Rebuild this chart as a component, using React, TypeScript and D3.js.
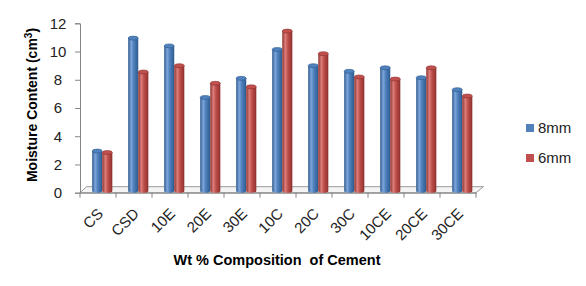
import React, { useEffect, useRef } from 'react';
import * as d3 from 'd3';

const categories = ['CS', 'CSD', '10E', '20E', '30E', '10C', '20C', '30C', '10CE', '20CE', '30CE'];
const series = ['8mm', '6mm'];
const values8mm = [2.95, 10.95, 10.4, 6.75, 8.1, 10.15, 9.0, 8.6, 8.85, 8.15, 7.3];
const values6mm = [2.85, 8.55, 9.0, 7.75, 7.5, 11.45, 9.85, 8.2, 8.05, 8.85, 6.85];
const yTicks = [0, 2, 4, 6, 8, 10, 12];

const colors = {
  '8mm': { base: '#4f81bd', light: '#7ea6da', dark: '#2e5a8e' },
  '6mm': { base: '#c0504d', light: '#dc7f7c', dark: '#8c302d' },
};

const FONT = "'Liberation Sans', Arial, sans-serif";

const App = () => {
  const chartRef = useRef(null);

  useEffect(() => {
    const width = 586;
    const height = 286;
    const left = 80;
    const right = 476;
    const top = 23.3;
    const bottom = 192.7;
    const depth = { dx: 6.5, dy: 6 };

    d3.select(chartRef.current).selectAll('*').remove();

    const svg = d3
      .select(chartRef.current)
      .append('svg')
      .attr('width', width)
      .attr('height', height)
      .style('position', 'absolute')
      .style('left', '0px')
      .style('top', '0px')
      .style('background', '#fff');

    const data = categories.map((c, i) => ({
      cat: c,
      '8mm': values8mm[i],
      '6mm': values6mm[i],
    }));

    const x = d3.scaleBand().domain(categories).range([left, right]).padding(0);
    const x1 = d3
      .scaleBand()
      .domain(series)
      .range([x.bandwidth() * 0.22, x.bandwidth() * 0.78])
      .padding(0);
    const y = d3.scaleLinear().domain([0, 12]).range([bottom, top]);

    // gradients for cylinders
    const defs = svg.append('defs');
    series.forEach((s) => {
      const g = defs
        .append('linearGradient')
        .attr('id', `grad-${s}`)
        .attr('x1', '0%')
        .attr('x2', '100%')
        .attr('y1', '0%')
        .attr('y2', '0%');
      g.append('stop').attr('offset', '0%').attr('stop-color', colors[s].dark);
      g.append('stop').attr('offset', '30%').attr('stop-color', colors[s].light);
      g.append('stop').attr('offset', '55%').attr('stop-color', colors[s].base);
      g.append('stop').attr('offset', '100%').attr('stop-color', colors[s].dark);
    });

    // floor
    svg
      .append('path')
      .attr(
        'd',
        `M${left},${bottom} L${left + depth.dx},${bottom - depth.dy} L${right + depth.dx + 1},${bottom - depth.dy} L${right},${bottom} Z`
      )
      .attr('fill', '#f4f4f4')
      .attr('stroke', '#9a9a9a')
      .attr('stroke-width', 1);

    // y axis
    const yAxis = svg
      .append('g')
      .attr('transform', `translate(${left},0)`)
      .call(d3.axisLeft(y).tickValues(yTicks).tickSize(5).tickPadding(0));
    yAxis.select('.domain').attr('stroke', '#868686');
    yAxis.selectAll('.tick line').attr('stroke', '#868686');
    yAxis
      .selectAll('.tick text')
      .attr('x', -22)
      .attr('text-anchor', 'middle')
      .style('font-size', '15px')
      .style('font-family', FONT)
      .style('fill', '#222');

    // x axis
    const xAxis = svg
      .append('g')
      .attr('transform', `translate(0,${bottom})`)
      .call(d3.axisBottom(x).tickSize(0).tickFormat(() => ''));
    xAxis.select('.domain').attr('stroke', '#868686');
    xAxis
      .selectAll('line.cat-tick')
      .data(categories.concat(['__end']))
      .enter()
      .append('line')
      .attr('class', 'cat-tick')
      .attr('x1', (d, i) => left + i * x.step())
      .attr('x2', (d, i) => left + i * x.step())
      .attr('y1', 0)
      .attr('y2', 5)
      .attr('stroke', '#868686');

    svg
      .append('g')
      .selectAll('text')
      .data(categories)
      .enter()
      .append('text')
      .attr('transform', (d) => `translate(${x(d) + x.bandwidth() / 2 + 6},${bottom + 22}) rotate(-45)`)
      .attr('text-anchor', 'end')
      .style('font-size', '15px')
      .style('font-family', FONT)
      .style('fill', '#222')
      .text((d) => d);

    // cylinders
    const groups = svg
      .append('g')
      .selectAll('g')
      .data(data)
      .enter()
      .append('g')
      .attr('transform', (d) => `translate(${x(d.cat) + depth.dx / 2 + 1},0)`);

    series.forEach((s) => {
      const bw = x1.bandwidth();
      const base = bottom - depth.dy / 2 + 1;
      groups
        .append('path')
        .attr('d', (d) => {
          const x0 = x1(s);
          const yt = y(d[s]);
          return `M${x0},${yt} L${x0},${base} A${bw / 2},2 0 0 0 ${x0 + bw},${base} L${x0 + bw},${yt} Z`;
        })
        .attr('fill', `url(#grad-${s})`);
      groups
        .append('ellipse')
        .attr('cx', x1(s) + bw / 2)
        .attr('cy', (d) => y(d[s]))
        .attr('rx', bw / 2)
        .attr('ry', 2)
        .attr('fill', colors[s].base)
        .attr('stroke', colors[s].dark)
        .attr('stroke-width', 0.6);
    });

    // axis titles
    svg
      .append('text')
      .attr('transform', `translate(37,105) rotate(-90)`)
      .attr('text-anchor', 'middle')
      .style('font-size', '14px')
      .style('font-weight', 'bold')
      .style('font-family', FONT)
      .style('fill', '#000')
      .text('Moisture Content (cm')
      .call((t) => {
        t.append('tspan').attr('baseline-shift', 'super').style('font-size', '10px').text('3');
        t.append('tspan').text(')');
      });

    svg
      .append('text')
      .attr('x', 277)
      .attr('y', 265)
      .attr('text-anchor', 'middle')
      .style('font-size', '14.5px')
      .style('font-weight', 'bold')
      .style('font-family', FONT)
      .style('fill', '#000')
      .style('white-space', 'pre')
      .text('Wt % Composition  of Cement');

    // legend
    const legend = svg.append('g').attr('transform', 'translate(526,124)');
    series.forEach((s, i) => {
      const lg = legend.append('g').attr('transform', `translate(0,${i * 30})`);
      lg.append('rect').attr('width', 8).attr('height', 8).attr('fill', colors[s].base);
      lg
        .append('text')
        .attr('x', 12)
        .attr('y', 4)
        .attr('dy', '0.35em')
        .style('font-size', '15px')
        .style('font-family', FONT)
        .style('fill', '#222')
        .text(s);
    });
  }, []);

  return <div ref={chartRef}></div>;
};

export default App;
